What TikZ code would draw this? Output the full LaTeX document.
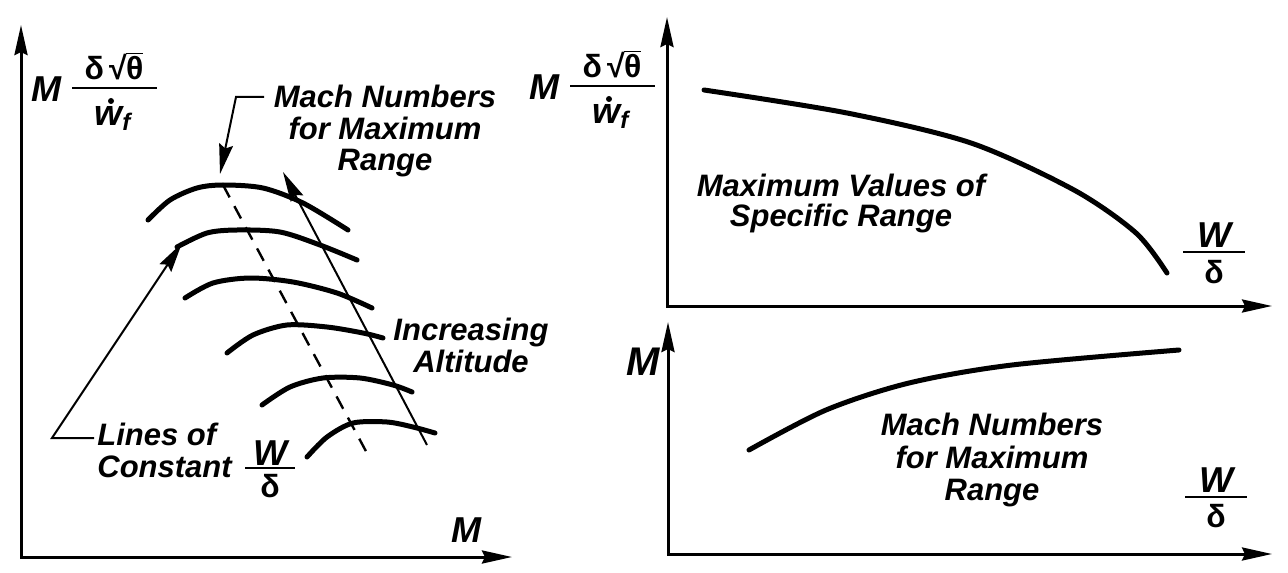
\documentclass[tikz,border=0pt]{standalone}
\usepackage{fontspec}
\setmainfont{Liberation Sans}
\usetikzlibrary{arrows.meta}
\newcommand{\myroot}[1]{√\kern-0.02em\vbox{\hrule height 0.8pt\kern 1.3pt\hbox{#1}}}
\begin{document}
\begin{tikzpicture}[x=0.5pt,y=-0.5pt,
  >={Stealth[length=15pt,width=6.5pt,inset=1.5pt]},
  txt/.style={font=\fontsize{15.5}{15.5}\selectfont\bfseries\itshape, inner sep=0pt, anchor=base},
  lbl/.style={font=\fontsize{18}{18}\selectfont\bfseries\itshape, inner sep=0pt},
  grk/.style={font=\fontsize{16}{16}\selectfont\bfseries, inner sep=0pt},
  numer/.style={grk, anchor=base, text depth=0pt},
  denom/.style={lbl, anchor=base},
  subs/.style={font=\fontsize{12}{12}\selectfont\bfseries\itshape, inner sep=0pt, anchor=base west},
  axis/.style={line width=1.5pt},
  bar/.style={line width=1.4pt},
  curve/.style={line width=2.5pt, line cap=round},
  dashline/.style={line width=1.2pt, dash pattern=on 7pt off 5pt},
  ptr/.style={line width=1pt, -{Stealth[length=15pt,width=7pt,inset=2pt]}}
]
\useasboundingbox (0,0) rectangle (1288,572);

% ---------------- left panel ----------------
\coordinate (yL) at (21,25);
\coordinate (oL) at (21,557);
\coordinate (xL) at (512,557);
\draw[axis,<->] (yL) -- (oL) -- (xL);

% y label
\node[lbl] (mL) at (46,89) {M};
\node[numer] (numL) at (114,80) {δ\,\myroot{θ}};
\coordinate (barLa) at (72,88);
\coordinate (barLb) at (157,88);
\draw[bar] (barLa) -- (barLb);
\node[denom] (denL) at (108,126) {w};
\node[subs] (subL) at (122,131) {f};
\coordinate (dotL) at (111,101);
\fill (dotL) circle (1.5pt);

% x label
\node[lbl] (xlabL) at (466,530) {M};

% constant W/delta curves
\draw[curve] plot[smooth] coordinates {(148,220) (170,200) (197,188) (223,185) (263,188) (303,203) (348,230)};
\draw[curve] plot[smooth] coordinates {(177,247) (207,233) (237,230) (280,232) (320,245) (357,260)};
\draw[curve] plot[smooth] coordinates {(185,298) (213,283) (250,278) (293,282) (337,293) (372,308)};
\draw[curve] plot[smooth] coordinates {(227,353) (253,335) (287,325) (327,327) (363,333) (383,338)};
\draw[curve] plot[smooth] coordinates {(262,405) (290,387) (323,378) (360,378) (393,385) (412,392)};
\draw[curve] plot[smooth] coordinates {(307,457) (327,437) (353,423) (387,422) (413,427) (435,433)};

% locus of maximum range
\coordinate (d1) at (223,185);
\coordinate (d2) at (368,455);
\draw[dashline] (d1) -- (d2);

% increasing altitude arrow
\coordinate (ia1) at (427,445);
\coordinate (ia2) at (283,172);
\draw[ptr] (ia1) -- (ia2);

% texts
\node[txt] (mn1) at (385,108) {Mach Numbers};
\node[txt] (mn2) at (385,140) {for Maximum};
\node[txt] (mn3) at (385,170) {Range};
\coordinate (ml0) at (264,97);
\coordinate (ml1) at (236,97);
\coordinate (ml2) at (220,174);
\draw[ptr] (ml0) -- (ml1) -- (ml2);

\node[txt] (ia3) at (471,340) {Increasing};
\node[txt] (ia4) at (471,372) {Altitude};

\node[txt,anchor=base west] (lc3) at (97,445) {Lines of};
\node[txt,anchor=base west] (lc4) at (97,477) {Constant};
\coordinate (lc0) at (94,438);
\coordinate (lc1) at (52,438);
\coordinate (lc2) at (182,243);
\draw[ptr] (lc0) -- (lc1) -- (lc2);

\node[lbl] (wL) at (270,453) {W};
\coordinate (wbLa) at (245,468);
\coordinate (wbLb) at (295,468);
\draw[bar] (wbLa) -- (wbLb);
\node[grk] (dL) at (270,486) {δ};

% ---------------- right top panel ----------------
\coordinate (yR) at (667,17);
\coordinate (oR) at (667,306);
\coordinate (xR) at (1272,306);
\draw[axis,<->] (yR) -- (oR) -- (xR);

\node[lbl] (mR) at (544,87) {M};
\node[numer] (numR) at (612,78) {δ\,\myroot{θ}};
\coordinate (barRa) at (570,86);
\coordinate (barRb) at (655,86);
\draw[bar] (barRa) -- (barRb);
\node[denom] (denR) at (606,124) {w};
\node[subs] (subR) at (620,129) {f};
\coordinate (dotR) at (609,99);
\fill (dotR) circle (1.5pt);

\draw[curve] plot[smooth] coordinates {(704,90) (847,113) (971,143) (1074,190) (1136,233) (1167,273)};

\node[txt] (sr1) at (841,197) {Maximum Values of};
\node[txt] (sr2) at (841,227) {Specific Range};

\node[lbl] (wR) at (1214,235) {W};
\coordinate (wbRa) at (1183,252);
\coordinate (wbRb) at (1245,252);
\draw[bar] (wbRa) -- (wbRb);
\node[grk] (dR) at (1214,272) {δ};

% ---------------- right bottom panel ----------------
\coordinate (yB) at (668,322);
\coordinate (oB) at (668,554);
\coordinate (xB) at (1272,554);
\draw[axis,<->] (yB) -- (oB) -- (xB);

\node[lbl,font=\fontsize{20}{20}\selectfont\bfseries\itshape] (mB) at (643,362) {M};

\draw[curve] plot[smooth] coordinates {(749,450) (826,410) (909,383) (1012,365) (1179,350)};

\node[txt] (bm1) at (992,435) {Mach Numbers};
\node[txt] (bm2) at (992,468) {for Maximum};
\node[txt] (bm3) at (992,500) {Range};

\node[lbl] (wB) at (1216,480) {W};
\coordinate (wbBa) at (1185,497);
\coordinate (wbBb) at (1247,497);
\draw[bar] (wbBa) -- (wbBb);
\node[grk] (dB) at (1216,516) {δ};
\end{tikzpicture}
\end{document}
